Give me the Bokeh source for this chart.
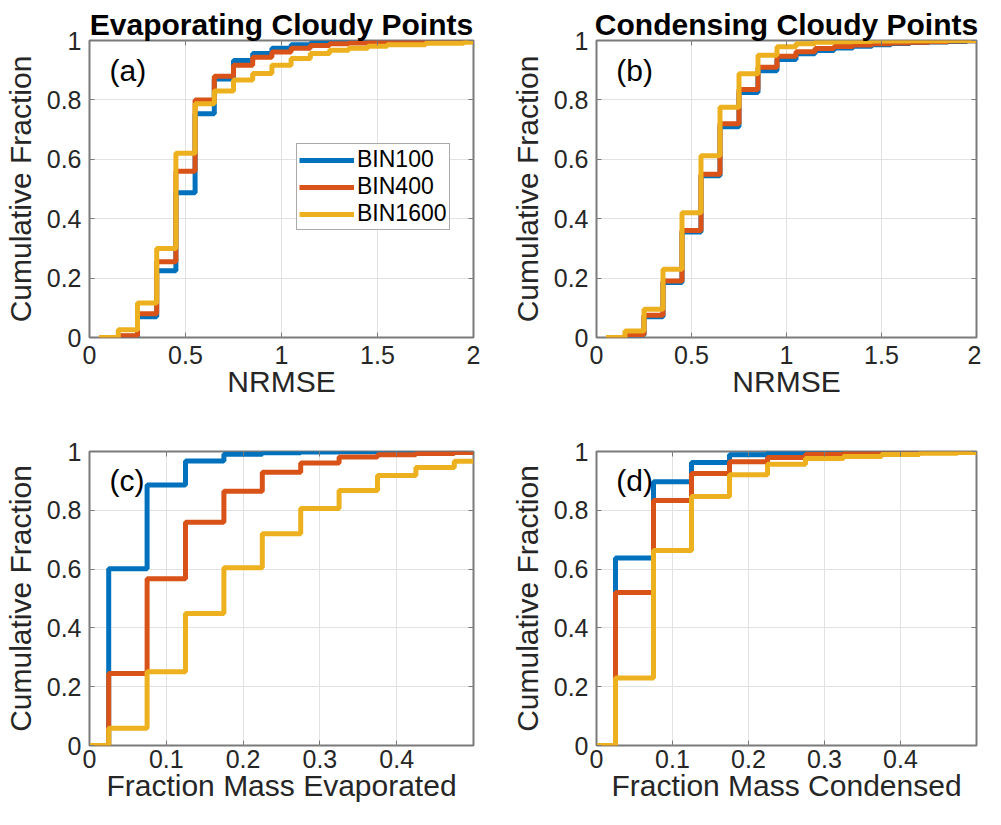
from bokeh.plotting import figure
from bokeh.layouts import column, row
from bokeh.models import Range1d, FixedTicker, Legend, LegendItem, Label, LinearAxis
from bokeh.embed import file_html
from bokeh.resources import INLINE

SERIES = ["BIN100", "BIN400", "BIN1600"]
COLORS = ["#0072BD", "#D95319", "#EDB120"]
FONT = "Liberation Sans"

# NRMSE step edges (left edge of each stair level) and the axis end
nrmse_edges = [0.05, 0.15, 0.25, 0.35, 0.45, 0.55, 0.65, 0.75, 0.85, 0.95,
               1.05, 1.15, 1.25, 1.35, 1.45, 1.55, 1.65, 1.75, 1.85, 1.95]
nrmse_end = 2.0

evap_nrmse_bin100 = [0, 0.004, 0.07, 0.225, 0.487, 0.753, 0.87, 0.933, 0.956, 0.974,
                     0.986, 0.991, 0.994, 0.996, 0.997, 0.998, 0.998, 0.999, 0.999, 1.0]
evap_nrmse_bin400 = [0, 0.006, 0.08, 0.255, 0.56, 0.80, 0.88, 0.917, 0.944, 0.961,
                     0.974, 0.983, 0.989, 0.992, 0.994, 0.995, 0.996, 0.997, 0.998, 0.999]
evap_nrmse_bin1600 = [0, 0.026, 0.116, 0.30, 0.62, 0.787, 0.83, 0.867, 0.889, 0.917,
                      0.939, 0.956, 0.967, 0.974, 0.981, 0.986, 0.986, 0.991, 0.991, 0.994]

cond_nrmse_bin100 = [0, 0.008, 0.07, 0.185, 0.355, 0.545, 0.71, 0.825, 0.898, 0.936,
                     0.955, 0.966, 0.975, 0.981, 0.986, 0.99, 0.993, 0.995, 0.997, 0.999]
cond_nrmse_bin400 = [0, 0.01, 0.075, 0.19, 0.36, 0.55, 0.72, 0.835, 0.91, 0.947,
                     0.962, 0.973, 0.98, 0.985, 0.989, 0.992, 0.994, 0.996, 0.998, 0.999]
cond_nrmse_bin1600 = [0, 0.022, 0.095, 0.23, 0.42, 0.612, 0.775, 0.888, 0.95, 0.979,
                      0.989, 0.994, 0.996, 0.997, 0.998, 0.998, 0.999, 0.999, 1.0, 1.0]

# Fraction-of-mass step edges and the axis end
frac_edges = [0, 0.025, 0.075, 0.125, 0.175, 0.225, 0.275, 0.325, 0.375, 0.425, 0.475]
frac_end = 0.5

evap_frac_bin100 = [0, 0.601, 0.886, 0.968, 0.991, 0.996, 0.998, 0.999, 0.999, 1.0, 1.0]
evap_frac_bin400 = [0, 0.245, 0.567, 0.759, 0.865, 0.929, 0.961, 0.981, 0.989, 0.993, 0.997]
evap_frac_bin1600 = [0, 0.059, 0.251, 0.449, 0.605, 0.72, 0.806, 0.867, 0.918, 0.946, 0.967]

cond_frac_bin100 = [0, 0.638, 0.897, 0.963, 0.989, 0.997, 0.998, 0.999, 1.0, 1.0, 1.0]
cond_frac_bin400 = [0, 0.52, 0.833, 0.925, 0.965, 0.98, 0.99, 0.994, 0.996, 0.997, 0.998]
cond_frac_bin1600 = [0, 0.23, 0.663, 0.847, 0.921, 0.957, 0.976, 0.983, 0.99, 0.994, 0.997]

# ticks
y_ticks = [0, 0.2, 0.4, 0.6, 0.8, 1.0]
y_tick_labels = ["0", "0.2", "0.4", "0.6", "0.8", "1"]
nrmse_ticks = [0, 0.5, 1.0, 1.5, 2.0]
nrmse_tick_labels = ["0", "0.5", "1", "1.5", "2"]
frac_ticks = [0, 0.1, 0.2, 0.3, 0.4]
frac_tick_labels = ["0", "0.1", "0.2", "0.3", "0.4"]

AX_COLOR = "#262626"
FRAME_COLOR = "#7a7a7a"


def make_panel(width, height, bl, br, bt, bb, xstand, xr, xt, xtl, xlabel, title, letter,
               edges, end, series_vals):
    p = figure(width=width, height=height, output_backend="svg", toolbar_location=None,
               x_range=Range1d(*xr), y_range=Range1d(0, 1),
               min_border_left=bl, min_border_right=br, min_border_top=bt,
               min_border_bottom=bb, x_axis_label=xlabel, y_axis_label="Cumulative Fraction")
    p.background_fill_color = "white"
    p.border_fill_color = "white"
    p.outline_line_color = FRAME_COLOR
    p.outline_line_width = 2
    p.xaxis.ticker = FixedTicker(ticks=xt)
    p.xaxis.major_label_overrides = {t: l for t, l in zip(xt, xtl)}
    p.yaxis.ticker = FixedTicker(ticks=y_ticks)
    p.yaxis.major_label_overrides = {t: l for t, l in zip(y_ticks, y_tick_labels)}
    for ax in p.xaxis + p.yaxis:
        ax.axis_line_color = None
        ax.major_tick_in = 5
        ax.major_tick_out = 0
        ax.major_tick_line_color = FRAME_COLOR
        ax.minor_tick_line_color = None
        ax.major_label_text_font = FONT
        ax.major_label_text_font_size = "25px"
        ax.major_label_text_color = AX_COLOR
        ax.axis_label_text_font = FONT
        ax.axis_label_text_font_size = "30px"
        ax.axis_label_text_font_style = "normal"
        ax.axis_label_text_color = AX_COLOR
    p.xaxis.major_label_standoff = xstand
    p.xaxis.axis_label_standoff = -2
    p.yaxis.major_label_standoff = 8
    p.yaxis.axis_label_standoff = 7
    p.grid.grid_line_color = "#e2e2e2"
    p.grid.grid_line_width = 1

    # mirrored inward ticks on the right and top
    for loc, tk in (("right", y_ticks), ("above", xt)):
        ax = LinearAxis(ticker=FixedTicker(ticks=tk), axis_line_color=None,
                        major_tick_in=5, major_tick_out=0, major_tick_line_color=FRAME_COLOR,
                        minor_tick_line_color=None, major_label_text_font_size="0px",
                        major_label_standoff=0)
        ax.major_label_text_alpha = 0
        p.add_layout(ax, loc)

    if title:
        p.title.text = title
        p.title.text_font = FONT
        p.title.text_font_size = "30px"
        p.title.text_font_style = "bold"
        p.title.text_color = "black"
        p.title.align = "center"
        p.title.standoff = 0

    renderers = []
    for vals, col in zip(series_vals, COLORS):
        xs = list(edges) + [end]
        ys = list(vals) + [vals[-1]]
        r = p.step(xs, ys, mode="after", line_width=5, line_color=col)
        renderers.append(r)

    p.add_layout(Label(x=xr[0] + (xr[1] - xr[0]) * 0.052, y=0.9, text=letter,
                       text_font=FONT, text_font_size="30px", text_color="black",
                       text_baseline="middle"))
    return p, renderers


pa, ra = make_panel(507, 404, 86, 34, 40, 67, 8, (0, 2), nrmse_ticks, nrmse_tick_labels,
                    "NRMSE", "Evaporating Cloudy Points", "(a)", nrmse_edges, nrmse_end,
                    [evap_nrmse_bin100, evap_nrmse_bin400, evap_nrmse_bin1600])
pb, _ = make_panel(474, 404, 84, 5, 40, 67, 8, (0, 2), nrmse_ticks, nrmse_tick_labels,
                   "NRMSE", "Condensing Cloudy Points", "(b)", nrmse_edges, nrmse_end,
                   [cond_nrmse_bin100, cond_nrmse_bin400, cond_nrmse_bin1600])
pc, _ = make_panel(507, 405, 86, 34, 47, 64, 4, (0, 0.5), frac_ticks, frac_tick_labels,
                   "Fraction Mass Evaporated", None, "(c)", frac_edges, frac_end,
                   [evap_frac_bin100, evap_frac_bin400, evap_frac_bin1600])
pd_, _ = make_panel(474, 405, 84, 5, 47, 64, 4, (0, 0.5), frac_ticks, frac_tick_labels,
                    "Fraction Mass Condensed", None, "(d)", frac_edges, frac_end,
                    [cond_frac_bin100, cond_frac_bin400, cond_frac_bin1600])

legend = Legend(items=[LegendItem(label=s, renderers=[r]) for s, r in zip(SERIES, ra)],
                location=(207, 107), orientation="vertical",
                label_text_font=FONT, label_text_font_size="23px", label_text_color="black",
                label_height=22, glyph_height=22, glyph_width=55, label_standoff=3,
                spacing=0, padding=2, margin=0,
                border_line_color="#555555", border_line_width=1.5,
                background_fill_color="white", background_fill_alpha=1)
pa.add_layout(legend)

layout = column(row(pa, pb, spacing=0), row(pc, pd_, spacing=0), spacing=0)

open("out.html", "w").write(file_html(layout, INLINE))
